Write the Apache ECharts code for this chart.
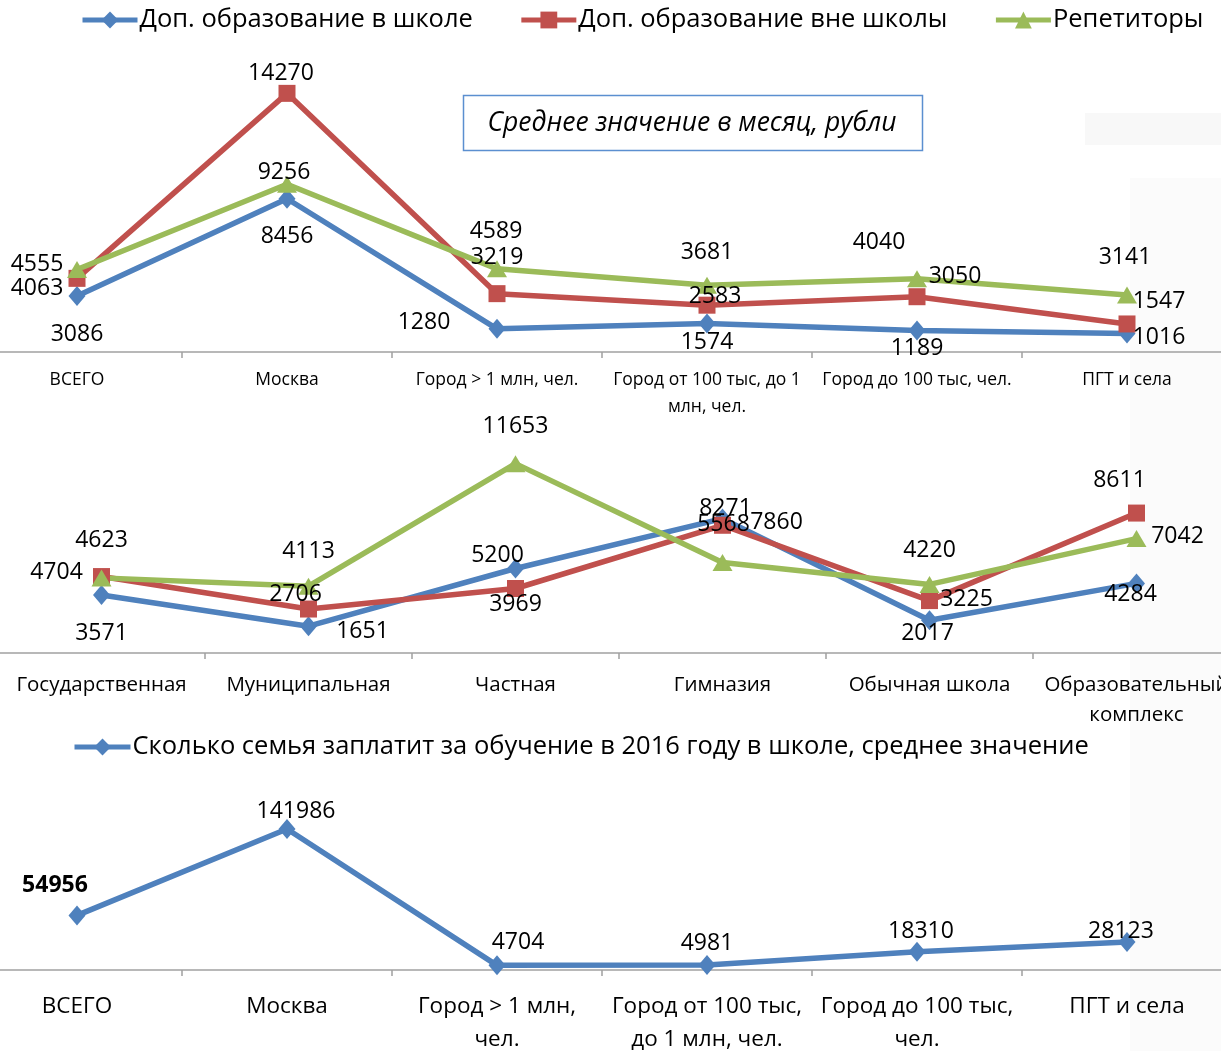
<!DOCTYPE html>
<html>
<head>
<meta charset="utf-8">
<script src="https://cdn.jsdelivr.net/npm/echarts@6/dist/echarts.min.js"></script>
<style>html,body{margin:0;padding:0;background:#fff}#c{width:1221px;height:1051px}</style>
</head>
<body>
<div id="c"></div>
<script>
// ---- data ----
const catsA = ['ВСЕГО', 'Москва', 'Город > 1 млн, чел.', 'Город от 100 тыс, до 1\nмлн, чел.', 'Город до 100 тыс, чел.', 'ПГТ и села'];
const inSchoolA = [3086, 8456, 1280, 1574, 1189, 1016];
const outSchoolA = [4063, 14270, 3219, 2583, 3050, 1547];
const tutorsA = [4555, 9256, 4589, 3681, 4040, 3141];

const catsB = ['Государственная', 'Муниципальная', 'Частная', 'Гимназия', 'Обычная школа', 'Образовательный\nкомплекс'];
const inSchoolB = [3571, 1651, 5200, 8271, 2017, 4284];
const outSchoolB = [4704, 2706, 3969, 7860, 3225, 8611];
const tutorsB = [4623, 4113, 11653, 5568, 4220, 7042];

const catsC = ['ВСЕГО', 'Москва', 'Город > 1 млн,\nчел.', 'Город от 100 тыс,\nдо 1 млн, чел.', 'Город до 100 тыс,\nчел.', 'ПГТ и села'];
const pay2016 = [54956, 141986, 4704, 4981, 18310, 28123];

const names = ['Доп. образование в школе', 'Доп. образование вне школы', 'Репетиторы'];
const name2016 = 'Сколько семья заплатит за обучение в 2016 году в школе, среднее значение';

// ---- label placement (style only) ----
const offA = [
  [[0,38],[0,38],[-73,-6],[0,19],[0,18],[32,4]],
  [[-40,10],[-6,-20],[0,-36],[8,-9],[38,-20],[32,-23]],
  [[-40,-5],[-3,-12],[-1,-37],[0,-33],[-38,-36],[-2,-38]]
];
const offB = [
  [[0,38],[54,5],[-18,-13],[3,-10],[-2,13],[-6,11]],
  [[-45,-4],[-13,-15],[0,16],[54,-3],[37,-1],[-17,-33]],
  [[0,-37],[0,-35],[0,-37],[1,-38],[0,-34],[41,-2]]
];
const offC = [[-22,-30],[9,-18],[21,-23],[0,-22],[4,-20],[-6,-11]];

const colors = ['#4f81bd', '#c0504d', '#9bbb59'];
const symbols = ['diamond', 'rect', 'triangle'];
const symSizes = [[17, 20], 17, [20, 17]];
const FONT = 'Open Sans';

function lineSeries(name, vals, k, gi) {
  return {
    type: 'line', name: name, xAxisIndex: gi, yAxisIndex: gi,
    data: vals,
    symbol: symbols[k], symbolSize: symSizes[k],
    lineStyle: { color: colors[k], width: 5.5 },
    itemStyle: { color: colors[k] },
    label: { show: false },
    emphasis: { disabled: true },
    animation: false, z: 2
  };
}
function labelSeries(vals, offs, gi, boldFirst) {
  return {
    type: 'scatter', xAxisIndex: gi, yAxisIndex: gi, z: 10, silent: true,
    symbolSize: 2, itemStyle: { color: 'rgba(255,255,255,0)', opacity: 1 },
    data: vals.map((v, i) => ({
      value: v,
      label: { offset: offs[i], fontWeight: (boldFirst && i === 0) ? 'bold' : 'normal' }
    })),
    label: { show: true, position: 'inside', color: '#000', fontSize: 23, fontFamily: FONT,
             formatter: p => String(p.value) },
    emphasis: { disabled: true }, animation: false
  };
}

function xAxis(gi, cats, fs, lh, margin) {
  return {
    type: 'category', gridIndex: gi, data: cats, boundaryGap: true,
    axisLine: { lineStyle: { color: '#a0a0a0', width: 1.5 } },
    axisTick: { show: true, length: 6, lineStyle: { color: '#a0a0a0', width: 1.5 } },
    axisLabel: { color: '#000', fontSize: fs, lineHeight: lh, margin: margin, fontFamily: FONT, interval: 0 },
    splitLine: { show: false }
  };
}
function yAxis(gi, max) {
  return { type: 'value', gridIndex: gi, min: 0, max: max, show: false, splitLine: { show: false } };
}

const series = [];
const setsA = [inSchoolA, outSchoolA, tutorsA];
const setsB = [inSchoolB, outSchoolB, tutorsB];
setsA.forEach((v, k) => series.push(lineSeries(names[k], v, k, 0)));
setsB.forEach((v, k) => series.push(lineSeries(names[k], v, k, 1)));
series.push(lineSeries(name2016, pay2016, 0, 2));
setsA.forEach((v, k) => series.push(labelSeries(v, offA[k], 0)));
setsB.forEach((v, k) => series.push(labelSeries(v, offB[k], 1)));
series.push(labelSeries(pay2016, offC, 2, true));

const chart = echarts.init(document.getElementById('c'), null, { renderer: 'canvas' });
chart.setOption({
  backgroundColor: '#ffffff',
  animation: false,
  textStyle: { fontFamily: FONT },
  legend: [
    { data: names, left: 80, top: 7, padding: 0, itemWidth: 55, itemHeight: 21, itemGap: 46,
      lineStyle: { width: 5 },
      textStyle: { fontSize: 25.5, color: '#000', fontFamily: FONT, padding: [0, 0, 0, -3] }, selectedMode: false },
    { data: [name2016], left: 72, top: 734, padding: 0, itemWidth: 56, itemHeight: 21,
      lineStyle: { width: 5 },
      textStyle: { fontSize: 25.5, color: '#000', fontFamily: FONT, padding: [0, 0, 0, -3] }, selectedMode: false }
  ],
  grid: [
    { left: -28, right: -11, top: 62, bottom: 699, containLabel: false, outerBoundsMode: 'none' },
    { left: -2, right: -19, top: 458, bottom: 398, containLabel: false, outerBoundsMode: 'none' },
    { left: -28, right: -11, top: 821, bottom: 81, containLabel: false, outerBoundsMode: 'none' }
  ],
  xAxis: [xAxis(0, catsA, 17.5, 27, 15), xAxis(1, catsB, 20.5, 30, 17), xAxis(2, catsC, 22.5, 33, 20)],
  yAxis: [yAxis(0, 16000), yAxis(1, 12000), yAxis(2, 150000)],
  graphic: [
    { type: 'rect', z: -10, silent: true, shape: { x: 1085, y: 113, width: 136, height: 32 }, style: { fill: '#f8f8f8' } },
    { type: 'rect', z: -10, silent: true, shape: { x: 1130, y: 178, width: 91, height: 873 }, style: { fill: '#fbfbfb' } },
    { type: 'rect', z: 1, silent: true, shape: { x: 463.5, y: 95.5, width: 459, height: 55 },
      style: { fill: '#ffffff', stroke: '#5b8fd0', lineWidth: 1.5 } },
    { type: 'text', z: 1, silent: true, x: 692, y: 123,
      style: { text: 'Среднее значение в месяц, рубли', fontSize: 26.5, fontStyle: 'italic', fontFamily: FONT,
               fill: '#000', align: 'center', verticalAlign: 'middle' } }
  ],
  series: series
});
</script>
</body>
</html>
